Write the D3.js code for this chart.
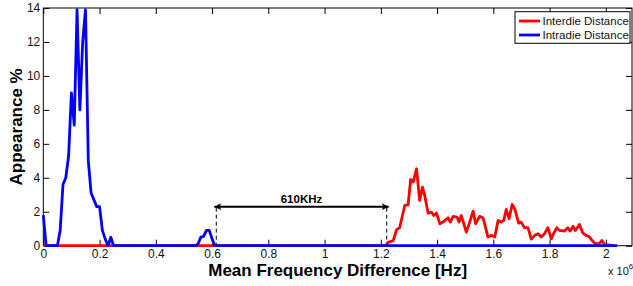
<!DOCTYPE html>
<html>
<head>
<meta charset="utf-8">
<script src="https://cdn.jsdelivr.net/npm/d3@7"></script>
<style>
  html, body { margin: 0; padding: 0; background: #fff; }
  svg { display: block; font-family: "Liberation Sans", Arial, sans-serif; }
</style>
</head>
<body>
<svg id="chart" width="633" height="286"></svg>
<script>
// ---- data (x in units of 1e6 Hz, y in %) ----
const xTicks = [0, 0.2, 0.4, 0.6, 0.8, 1, 1.2, 1.4, 1.6, 1.8, 2];
const yTicks = [0, 2, 4, 6, 8, 10, 12, 14];
const seriesNames = ["Interdie Distance", "Intradie Distance"];

const interX = [0, 1.21, 1.218, 1.226, 1.244, 1.256, 1.267, 1.285, 1.297, 1.306, 1.315, 1.327, 1.338, 1.348, 1.356, 1.368, 1.38, 1.388, 1.398, 1.41, 1.421, 1.439, 1.447, 1.457, 1.471, 1.478, 1.486, 1.504, 1.516, 1.528, 1.537, 1.551, 1.563, 1.569, 1.581, 1.593, 1.605, 1.617, 1.628, 1.637, 1.646, 1.656, 1.667, 1.676, 1.69, 1.699, 1.711, 1.723, 1.735, 1.747, 1.759, 1.77, 1.782, 1.794, 1.806, 1.814, 1.826, 1.835, 1.853, 1.865, 1.873, 1.883, 1.892, 1.906, 1.918, 1.93, 1.942, 1.951, 1.963, 1.977, 1.986, 1.995, 2.007, 2.03];
const interY = [0, 0, 0, 0.2, 0.3, 0.94, 1.06, 2.37, 2.4, 3.9, 3.75, 4.53, 2.67, 3.45, 2.96, 1.92, 1.98, 1.78, 1.92, 1.29, 1.39, 1.65, 1.39, 1.73, 1.69, 1.39, 1.78, 0.8, 1.39, 2.04, 1.29, 1.73, 1.65, 1.29, 0.51, 0.61, 0.51, 1.49, 1.39, 1.49, 2.14, 1.59, 2.43, 2.18, 1.33, 1.39, 1.06, 1.06, 0.39, 0.61, 0.71, 0.51, 0.71, 1.06, 0.41, 0.71, 1.06, 0.9, 0.86, 1.06, 0.86, 1.14, 0.9, 1.25, 0.75, 0.61, 0.51, 0.31, 0.12, 0.12, 0.31, 0.08, 0.05, 0];

const intraX = [0, 0.01, 0.05, 0.06, 0.07, 0.08, 0.09, 0.10, 0.11, 0.12, 0.13, 0.14, 0.15, 0.16, 0.17, 0.18, 0.19, 0.20, 0.21, 0.22, 0.23, 0.24, 0.25, 0.54, 0.55, 0.56, 0.57, 0.58, 0.59, 0.60, 0.61, 2.04];
const intraY = [1.8, 0, 0, 0.9, 3.6, 4.0, 5.3, 9.0, 7.1, 13.9, 8.0, 12.0, 13.9, 5.0, 3.1, 2.7, 2.3, 2.3, 0.9, 0.4, 0, 0.5, 0, 0, 0.1, 0.5, 0.55, 0.9, 0.9, 0.4, 0, 0];

const gapStart = 0.615, gapEnd = 1.221, gapLevel = 2.3, gapLabel = "610KHz";

// ---- layout ----
const svg = d3.select("#chart");
const L = 43.3, R = 632, T = 8, B = 245.7;
const x = d3.scaleLinear().domain([0, 2.093]).range([L, R]);
const y = d3.scaleLinear().domain([0, 14]).range([B, T]);
const tickLen = 6;
const fmt = d => String(d);

// axes (inward ticks on all sides)
const axB = svg.append("g").attr("transform", `translate(0,${B})`)
  .call(d3.axisBottom(x).tickValues(xTicks).tickFormat(fmt).tickSizeInner(-tickLen).tickSizeOuter(0).tickPadding(5));
const axT = svg.append("g").attr("transform", `translate(0,${T})`)
  .call(d3.axisTop(x).tickValues(xTicks).tickFormat("").tickSizeInner(-tickLen).tickSizeOuter(0));
const axL = svg.append("g").attr("transform", `translate(${L},0)`)
  .call(d3.axisLeft(y).tickValues(yTicks).tickFormat(fmt).tickSizeInner(-tickLen).tickSizeOuter(0).tickPadding(3));
const axR = svg.append("g").attr("transform", `translate(${R},0)`)
  .call(d3.axisRight(y).tickValues(yTicks).tickFormat("").tickSizeInner(-tickLen).tickSizeOuter(0));

[axB, axT, axL, axR].forEach(g => {
  g.selectAll(".domain").remove();
  g.selectAll(".tick line").attr("stroke", "#000").attr("stroke-width", 1);
  g.selectAll(".tick text").attr("fill", "#111").style("font-size", "12px")
   .style("font-family", '"Liberation Sans", Arial, sans-serif');
});
axB.selectAll(".tick text").attr("dy", "0.71em").attr("y", 3.5);

// box
svg.append("rect").attr("x", L).attr("y", T).attr("width", R - L).attr("height", B - T)
  .attr("fill", "none").attr("stroke", "#000").attr("stroke-width", 1);

// series
const line = d3.line().x(d => x(d[0])).y(d => y(d[1]));
const inter = interX.map((v, i) => [v, interY[i]]);
const intra = intraX.map((v, i) => [v, intraY[i]]);
svg.append("path").datum(inter).attr("d", line).attr("fill", "none")
  .attr("stroke", "#ff0000").attr("stroke-width", 2.8).attr("stroke-linejoin", "round");
svg.append("path").datum(intra).attr("d", line).attr("fill", "none")
  .attr("stroke", "#0000ff").attr("stroke-width", 2.8).attr("stroke-linejoin", "round");

// annotation
[gapStart, gapEnd].forEach(v => {
  svg.append("line").attr("x1", x(v)).attr("x2", x(v)).attr("y1", y(gapLevel) + 1).attr("y2", B)
    .attr("stroke", "#000").attr("stroke-width", 1).attr("stroke-dasharray", "4,3");
});
const defs = svg.append("defs");
defs.append("marker").attr("id", "ah").attr("viewBox", "0 0 10 10").attr("refX", 10).attr("refY", 5)
  .attr("markerWidth", 10).attr("markerHeight", 7).attr("markerUnits", "userSpaceOnUse")
  .attr("orient", "auto-start-reverse")
  .append("path").attr("d", "M0,0 L10,5 L0,10 L2.5,5 Z").attr("fill", "#000");
svg.append("line").attr("x1", x(gapStart) - 2).attr("x2", x(gapEnd) + 2)
  .attr("y1", y(gapLevel)).attr("y2", y(gapLevel))
  .attr("stroke", "#000").attr("stroke-width", 2)
  .attr("marker-start", "url(#ah)").attr("marker-end", "url(#ah)");
svg.append("text").attr("x", x((gapStart + gapEnd) / 2)).attr("y", y(gapLevel) - 3.5)
  .attr("text-anchor", "middle").style("font-size", "11.5px").style("font-weight", "bold")
  .attr("fill", "#000").text(gapLabel);

// axis labels
svg.append("text").attr("x", (L + R) / 2).attr("y", 275.5).attr("text-anchor", "middle")
  .style("font-size", "17px").style("font-weight", "bold").attr("fill", "#000")
  .text("Mean Frequency Difference [Hz]");
svg.append("text").attr("transform", `translate(22,${(T + B) / 2}) rotate(-90)`)
  .attr("text-anchor", "middle").style("font-size", "17px").style("font-weight", "bold")
  .attr("fill", "#000").text("Appearance %");

// exponent
const ex = svg.append("text").attr("x", 608).attr("y", 275).style("font-size", "11px").attr("fill", "#111");
ex.append("tspan").text("x 10");
ex.append("tspan").attr("dy", -6).style("font-size", "8px").text("6");

// legend
const lg = svg.append("g");
lg.append("rect").attr("x", 515).attr("y", 11.7).attr("width", 115).attr("height", 31.6)
  .attr("fill", "#fff").attr("stroke", "#000").attr("stroke-width", 1);
const lColors = ["#ff0000", "#0000ff"];
seriesNames.forEach((name, i) => {
  const yy = 21 + i * 14;
  lg.append("line").attr("x1", 519).attr("x2", 540).attr("y1", yy).attr("y2", yy)
    .attr("stroke", lColors[i]).attr("stroke-width", 2.8);
  lg.append("text").attr("x", 542.5).attr("y", yy).attr("dy", "0.36em")
    .style("font-size", "11.5px").attr("fill", "#111").text(name);
});
</script>
</body>
</html>
